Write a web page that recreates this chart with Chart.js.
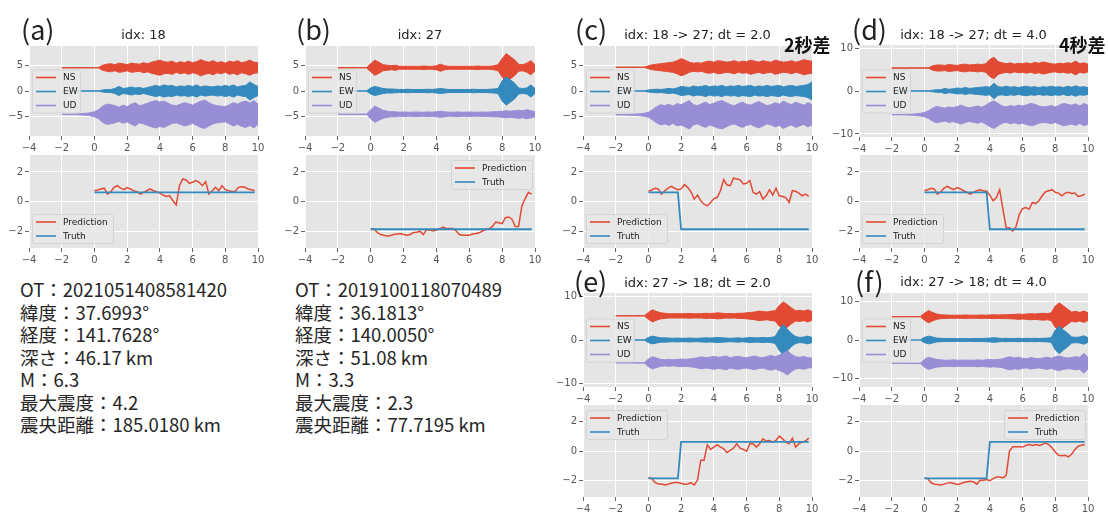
<!DOCTYPE html>
<html>
<head>
<meta charset="utf-8">
<script src="https://cdn.jsdelivr.net/npm/chart.js@4.4.0/dist/chart.umd.min.js"></script>
<style>
  body { margin: 0; width: 1108px; height: 515px; overflow: hidden; position: relative; background: #fff; }
  canvas { position: absolute; z-index: 1; }
  .tag { position: absolute; z-index: 5; font-family: "Noto Sans CJK JP", sans-serif; font-size: 27px; line-height: 30px; color: #222; }
  .ttl { position: absolute; z-index: 5; font-family: "DejaVu Sans", sans-serif; font-size: 13px; line-height: 16px; color: #222; text-align: center; white-space: nowrap; }
  .diff { position: absolute; z-index: 5; font-family: "Noto Sans CJK JP", sans-serif; font-size: 18px; font-weight: bold; line-height: 20px; color: #111; }
  .info { position: absolute; z-index: 5; font-family: "Noto Sans CJK JP", sans-serif; font-size: 18.5px; line-height: 22.5px; color: #262626; white-space: nowrap; }
</style>
</head>
<body>

<div class="tag" style="left:21px;top:14px">(a)</div>
<div class="tag" style="left:296px;top:14px">(b)</div>
<div class="tag" style="left:575px;top:14px">(c)</div>
<div class="tag" style="left:852px;top:14px">(d)</div>
<div class="tag" style="left:574px;top:266px">(e)</div>
<div class="tag" style="left:855px;top:266px">(f)</div>
<div class="diff" style="left:784px;top:34px">2秒差</div>
<div class="diff" style="left:1059px;top:34px">4秒差</div>

<div class="info" style="left:20px;top:278px">OT：2021051408581420<br>緯度：37.6993°<br>経度：141.7628°<br>深さ：46.17 km<br>M：6.3<br>最大震度：4.2<br>震央距離：185.0180 km</div>
<div class="info" style="left:295px;top:278px">OT：2019100118070489<br>緯度：36.1813°<br>経度：140.0050°<br>深さ：51.08 km<br>M：3.3<br>最大震度：2.3<br>震央距離：77.7195 km</div>

<script>
/* ---------- data ---------- */

const xTicks = [-4, -2, 0, 2, 4, 6, 8, 10];
const waveTicks5 = [-5, 0, 5];
const waveTicks10 = [-10, 0, 10];
const predTicks = [-2, 0, 2];

const waveLabels = ["NS", "EW", "UD"];
const predLabels = ["Prediction", "Truth"];
const titles = ["idx: 18", "idx: 27", "idx: 18 -> 27; dt = 2.0", "idx: 18 -> 27; dt = 4.0",
                "idx: 27 -> 18; dt = 2.0", "idx: 27 -> 18; dt = 4.0"];

// sample times of the waveform envelopes (s)
const waveT = [
  -2, -1.75, -1.5, -1.25, -1, -0.75, -0.5, -0.25, 0, 0.25,
  0.5, 0.75, 1, 1.25, 1.5, 1.75, 2, 2.25, 2.5, 2.75,
  3, 3.25, 3.5, 3.75, 4, 4.25, 4.5, 4.75, 5, 5.25,
  5.5, 5.75, 6, 6.25, 6.5, 6.75, 7, 7.25, 7.5, 7.75,
  8, 8.25, 8.5, 8.75, 9, 9.25, 9.5, 9.75, 10
];

// trace offsets NS / EW / UD
const shiftA = [4.6, 0, -4.6];
const shiftB = [4.6, 0, -4.6];
const shiftC = [4.7, 0, -4.7];
const shiftD = [5.35, 0, -5.5];
const shiftE = [5.6, 0, -5.3];
const shiftF = [6.1, 0, -6.1];

// half-amplitude of each trace, read per 0.25 s
const nsA = [0.05,0.05,0.05,0.05,0.05,0.05,0.05,0.05,0.05,0.05,
  0.5,0.7,0.8,0.6,0.9,0.8,0.6,0.9,0.8,0.7, 1.0,0.8,1.1,1.3,1.5,1.2,1.1,1.3,0.9,1.2,
  1.0,1.3,1.0,1.2,1.6,1.3,1.1,1.4,1.0,1.2, 0.9,1.3,1.1,1.4,1.0,1.2,1.5,1.1,1.0];
const ewA = [0.03,0.03,0.03,0.03,0.03,0.03,0.03,0.03,0.03,0.03,
  0.2,0.3,0.3,0.5,0.9,0.5,0.6,0.8,0.6,0.7, 0.5,0.7,0.9,1.1,0.9,1.2,1.0,1.1,0.8,1.0,
  0.9,1.1,0.9,1.2,0.8,1.0,0.9,0.8,1.0,0.9, 1.1,0.9,1.2,0.8,1.0,1.1,1.8,1.3,0.9];
const udA = [0.05,0.05,0.05,0.05,0.1,0.15,0.2,0.3,0.5,0.9,
  1.6,2.0,1.9,1.7,1.4,1.8,1.5,2.0,2.3,1.7, 1.9,2.2,2.5,2.7,2.4,2.6,2.2,1.8,1.7,2.0,
  2.3,2.1,1.8,2.2,2.6,2.8,2.3,1.9,1.7,1.6, 1.5,1.9,2.3,2.0,2.4,2.6,2.2,2.7,2.0];

const nsB = [0.03,0.03,0.03,0.03,0.03,0.03,0.03,0.03,0.8,1.5,
  1.1,0.6,0.5,0.4,0.5,0.3,0.3,0.3,0.3,0.3, 0.3,0.35,0.3,0.3,0.4,0.7,0.4,0.3,0.3,0.3,
  0.3,0.3,0.3,0.3,0.35,0.3,0.3,0.3,0.4,0.6, 1.8,2.8,2.2,1.6,0.7,0.6,0.9,1.4,0.6];
const ewB = [0.03,0.03,0.03,0.03,0.03,0.03,0.03,0.03,0.6,0.9,
  0.7,0.5,0.4,0.4,0.35,0.3,0.3,0.35,0.3,0.3, 0.3,0.3,0.35,0.3,0.4,0.5,0.4,0.3,0.3,0.3,
  0.3,0.3,0.3,0.35,0.3,0.3,0.3,0.35,0.4,0.5, 2.0,2.8,2.2,1.6,0.6,0.5,0.6,1.2,0.5];
const udB = [0.03,0.03,0.03,0.03,0.03,0.03,0.03,0.03,0.9,1.6,
  1.2,0.8,0.6,0.5,0.5,0.4,0.45,0.4,0.4,0.45, 0.4,0.4,0.45,0.4,0.5,0.6,0.5,0.4,0.4,0.45,
  0.4,0.4,0.45,0.4,0.4,0.45,0.4,0.45,0.5,0.5, 0.6,0.7,0.6,0.7,0.8,0.7,0.9,0.7,0.5];

const nsC = [0.03,0.03,0.03,0.03,0.03,0.03,0.03,0.03,0.3,0.5,
  0.6,0.7,0.8,0.9,1.0,1.3,1.7,1.4,1.0,0.8, 0.9,0.8,1.1,1.2,1.0,1.3,1.2,1.0,1.1,1.3,
  1.0,1.2,1.1,1.4,1.2,1.0,1.3,1.1,1.0,1.4, 1.2,1.0,1.1,1.3,1.0,1.2,1.5,1.3,1.2];
const ewC = [0.03,0.03,0.03,0.03,0.03,0.03,0.03,0.03,0.2,0.3,
  0.35,0.3,0.4,0.5,0.4,0.6,0.9,0.8,0.7,1.0, 0.8,0.9,1.1,0.8,1.0,0.9,1.1,0.8,1.0,0.9,
  1.1,0.9,1.0,1.1,0.8,1.0,0.9,1.1,0.9,1.0, 1.1,0.8,1.0,1.1,0.9,1.0,1.1,1.3,1.8];
const udC = [0.03,0.03,0.05,0.08,0.1,0.15,0.2,0.3,0.5,1.0,
  1.6,2.0,1.8,2.1,1.7,2.2,2.0,2.4,2.8,2.0, 1.8,2.2,2.5,2.0,2.3,2.6,2.8,2.4,2.0,1.8,
  2.2,2.5,2.1,1.9,2.3,2.6,2.2,1.8,2.0,2.4, 2.1,2.7,2.3,2.0,2.5,2.2,1.9,2.4,2.0];

const nsD = [0.03,0.03,0.03,0.03,0.03,0.03,0.03,0.03,0.03,0.03,
  0.5,0.7,0.7,0.6,0.8,0.7,0.6,0.8,0.9,0.7, 0.8,0.9,0.8,1.0,2.0,2.5,1.5,1.2,1.0,1.2,
  0.9,1.1,1.0,1.2,1.0,1.3,1.1,1.4,1.2,1.0, 0.9,1.1,1.0,1.2,1.1,1.6,1.0,1.2,0.9];
const ewD = [0.03,0.03,0.03,0.03,0.03,0.03,0.03,0.03,0.03,0.03,
  0.2,0.3,0.3,0.6,0.4,0.5,0.7,0.6,0.8,0.6, 0.7,0.8,0.9,1.0,0.9,1.8,1.0,0.9,1.1,0.9,
  1.0,0.8,1.0,1.1,0.9,1.0,0.8,1.0,0.9,1.1, 0.9,1.0,0.8,1.1,0.9,1.2,0.9,1.0,0.8];
const udD = [0.03,0.03,0.03,0.05,0.08,0.12,0.2,0.3,0.5,0.9,
  1.5,1.9,1.7,1.5,1.8,1.6,1.9,2.2,1.8,1.6, 1.8,2.0,1.7,2.2,2.8,3.2,2.6,2.0,1.8,2.1,
  1.9,2.2,2.0,2.3,2.6,2.4,2.0,1.8,1.9,2.1, 1.8,2.2,2.6,2.4,2.2,2.5,2.0,2.6,2.2];

const nsE = [0.03,0.03,0.03,0.03,0.03,0.03,0.03,0.03,0.8,1.4,
  1.0,0.7,0.6,0.5,0.5,0.5,0.5,0.5,0.55,0.5, 0.5,0.5,0.6,0.55,0.6,0.7,0.6,0.5,0.55,0.5,
  0.6,0.6,0.7,0.8,0.9,1.1,1.0,0.9,1.1,1.2, 2.4,3.2,2.6,1.8,1.2,1.3,1.1,1.4,1.0];
const ewE = [0.03,0.03,0.03,0.03,0.03,0.03,0.03,0.03,0.6,0.9,
  0.7,0.5,0.5,0.45,0.4,0.45,0.4,0.4,0.45,0.4, 0.4,0.45,0.5,0.45,0.5,0.6,0.5,0.45,0.4,0.45,
  0.5,0.4,0.5,0.6,0.5,0.5,0.6,0.5,0.6,0.8, 2.4,3.6,2.5,1.5,0.8,0.6,0.7,0.9,0.6];
const udE = [0.03,0.03,0.03,0.03,0.03,0.03,0.03,0.03,0.9,1.4,
  1.1,0.8,0.7,0.8,0.7,0.8,0.9,0.8,0.9,1.0, 1.2,1.4,1.2,1.3,1.5,1.3,1.4,1.6,1.2,1.4,
  1.5,1.3,1.2,1.4,1.6,1.3,1.2,1.5,1.7,1.4, 1.8,2.2,2.8,2.0,1.4,1.3,1.5,1.2,1.1];

const nsF = [0.03,0.03,0.03,0.03,0.03,0.03,0.03,0.03,0.9,1.6,
  1.1,0.7,0.5,0.45,0.4,0.4,0.4,0.4,0.45,0.4, 0.4,0.4,0.45,0.4,0.45,0.5,0.45,0.5,0.5,0.55,
  0.6,0.7,0.6,0.7,0.8,0.7,0.8,0.9,0.8,1.0, 2.8,3.6,2.8,2.0,1.2,1.4,1.1,1.5,1.0];
const ewF = [0.03,0.03,0.03,0.03,0.03,0.03,0.03,0.03,0.7,1.0,
  0.8,0.5,0.45,0.4,0.4,0.4,0.35,0.4,0.4,0.35, 0.4,0.4,0.4,0.45,0.5,0.6,0.5,0.4,0.45,0.4,
  0.4,0.45,0.4,0.45,0.4,0.45,0.4,0.45,0.5,0.6, 2.6,3.6,2.6,1.8,0.8,0.7,0.8,1.1,0.6];
const udF = [0.03,0.03,0.03,0.03,0.03,0.03,0.03,0.03,1.0,1.6,
  1.3,1.0,0.9,0.8,0.8,0.9,0.8,0.8,0.85,0.8, 0.8,0.9,0.8,0.9,1.0,0.9,1.0,1.1,1.5,1.7,
  1.4,1.6,1.3,1.2,1.5,1.3,1.2,1.4,1.6,1.3, 1.7,1.9,1.6,1.4,1.5,1.7,1.6,2.6,1.5];

// prediction sample times (s)
const predT = [
  0, 0.2, 0.4, 0.6, 0.8, 1, 1.2, 1.4, 1.6, 1.8,
  2, 2.2, 2.4, 2.6, 2.8, 3, 3.2, 3.4, 3.6, 3.8,
  4, 4.2, 4.4, 4.6, 4.8, 5, 5.2, 5.4, 5.6, 5.8,
  6, 6.2, 6.4, 6.6, 6.8, 7, 7.2, 7.4, 7.6, 7.8,
  8, 8.2, 8.4, 8.6, 8.8, 9, 9.2, 9.4, 9.6, 9.8
];

const predA = [0.73,0.78,0.85,0.9,0.5,0.66,0.96,1.07,0.9,0.8,
  0.94,0.85,0.73,0.66,0.5,0.62,0.73,0.85,0.73,0.66,
  0.57,0.43,0.34,0.39,0.05,-0.23,1.07,1.53,1.46,1.23,
  1.3,1.42,1.3,1.07,1.35,0.5,0.73,0.96,0.73,1.07,
  0.8,0.73,0.68,0.68,0.96,1.0,0.96,0.85,0.8,0.73];
const predB = [-1.85,-1.85,-2.1,-2.24,-2.28,-2.35,-2.3,-2.24,-2.2,-2.17,
  -2.24,-2.28,-2.24,-2.1,-2.08,-2.01,-2.24,-1.9,-1.94,-2.0,
  -1.94,-1.85,-1.74,-1.83,-1.83,-1.83,-2.0,-2.24,-2.28,-2.28,
  -2.28,-2.2,-2.17,-2.12,-2.0,-1.9,-1.85,-1.7,-1.4,-1.44,
  -1.5,-1.1,-1.05,-1.2,-1.7,-1.7,-0.3,0.2,0.62,0.5];
const predC = [0.69,0.78,0.9,0.85,0.5,0.73,0.9,1.03,0.9,0.8,
  0.85,1.14,0.96,0.66,0.16,0.43,0.05,-0.18,-0.3,-0.07,
  0.2,0.27,0.73,1.48,1.12,1.07,1.58,1.53,1.48,1.19,
  1.23,1.42,0.62,0.5,0.66,0.16,0.39,0.8,0.43,0.9,
  0.39,0.34,0.27,-0.07,0.73,0.69,0.57,0.39,0.5,0.34];
const predD = [0.73,0.8,0.9,0.85,0.5,0.66,0.9,1.03,0.9,0.8,
  0.94,0.85,0.73,0.62,0.5,0.62,0.73,0.8,0.73,0.69,
  0.43,0.05,0.27,0.8,-0.53,-1.78,-1.78,-2.0,-1.7,-0.87,
  -0.48,-0.41,-0.53,-0.07,-0.14,0.05,0.39,0.66,0.73,0.8,
  0.62,0.57,0.39,0.57,0.62,0.55,0.57,0.34,0.39,0.5];
const predE = [-1.83,-1.88,-2.15,-2.26,-2.26,-2.33,-2.28,-2.21,-2.15,-2.15,
  -2.21,-2.28,-2.26,-2.17,-2.33,-1.99,-0.63,-0.63,0.43,0.11,
  0.27,0.43,0.27,0.16,-0.11,0.05,0.2,0.5,0.2,0.11,
  -0.02,0.5,0.5,0.27,0.5,0.84,0.68,0.72,0.61,0.72,
  1.02,0.84,0.61,0.5,0.88,0.27,0.5,0.61,0.68,0.88];
const predF = [-1.84,-1.89,-2.16,-2.27,-2.29,-2.33,-2.27,-2.2,-2.16,-2.22,
  -2.29,-2.24,-2.16,-2.11,-2.07,-2.11,-2.27,-2.0,-2.0,-1.96,
  -2.04,-1.89,-1.78,-1.78,-1.84,-1.67,0.0,0.29,0.29,0.29,
  0.27,0.38,0.44,0.38,0.44,0.38,0.44,0.56,0.44,0.22,
  -0.07,-0.29,-0.33,-0.29,-0.4,-0.22,0.11,0.33,0.4,0.44];

const truthAx = [0, 9.8],            truthAy = [0.62, 0.62];
const truthBx = [0, 9.8],            truthBy = [-1.88, -1.88];
const truthCx = [0, 1.8, 2.0, 9.8],  truthCy = [0.62, 0.62, -1.88, -1.88];
const truthDx = [0, 3.8, 4.0, 9.8],  truthDy = [0.62, 0.62, -1.88, -1.88];
const truthEx = [0, 1.8, 2.0, 9.8],  truthEy = [-1.88, -1.88, 0.62, 0.62];
const truthFx = [0, 3.8, 4.0, 9.8],  truthFy = [-1.88, -1.88, 0.62, 0.62];

/* ---------- style ---------- */

const RED = "#E24A33", BLUE = "#348ABD", PURPLE = "#988ED5";
const waveColors = [RED, BLUE, PURPLE];
const predColors = [RED, BLUE];
const PAD_L = 30, PAD_T = 8, PAD_R = 10, PAD_B = 18;

const ggBg = {
    id: "ggBg",
    beforeDraw(chart) {
        const a = chart.chartArea, ctx = chart.ctx;
        ctx.save();
        ctx.fillStyle = "#E5E5E5";
        ctx.fillRect(a.left, a.top, a.right - a.left, a.bottom - a.top);
        ctx.restore();
    }
};

// matplotlib-like legend box drawn inside the axes
const boxLegend = {
    id: "boxLegend",
    afterDraw(chart, args, o) {
        if (!o.labels) return;
        const a = chart.chartArea, ctx = chart.ctx;
        const rowH = 14, h = o.labels.length * rowH + 1, w = o.width;
        const x = o.loc.includes("right") ? a.right - 3 - w : a.left + 3;
        const y = o.loc.startsWith("upper") ? a.top + 5
                : o.loc.startsWith("lower") ? a.bottom - 5 - h
                : (a.top + a.bottom) / 2 - h / 2;
        ctx.save();
        ctx.beginPath();
        ctx.roundRect(x + 0.5, y + 0.5, w, h, 2);
        ctx.fillStyle = "rgba(232,232,232,0.85)";
        ctx.fill();
        ctx.strokeStyle = "rgba(210,210,210,0.9)";
        ctx.lineWidth = 1;
        ctx.stroke();
        ctx.font = "9px 'DejaVu Sans'";
        ctx.textBaseline = "middle";
        o.labels.forEach((lab, i) => {
            const cy = y + 1 + rowH * (i + 0.5);
            ctx.strokeStyle = o.colors[i];
            ctx.lineWidth = 1.6;
            ctx.beginPath();
            ctx.moveTo(x + 4, cy);
            ctx.lineTo(x + 24, cy);
            ctx.stroke();
            ctx.fillStyle = "#222";
            ctx.fillText(lab, x + 31, cy + 0.5);
        });
        ctx.restore();
    }
};

const minus = v => (v < 0 ? "\u2212" + Math.abs(v) : String(v));

function axis(min, max, ticks, isX) {
    return {
        type: "linear", min, max,
        afterBuildTicks: s => { s.ticks = ticks.map(v => ({ value: v })); },
        afterFit: s => { if (isX) s.height = PAD_B; else s.width = PAD_L; },
        grid: { color: "#FFFFFF", lineWidth: 1, tickColor: "#666", tickLength: 4, tickWidth: 1 },
        border: { display: false },
        ticks: {
            color: "#555", padding: 2, autoSkip: false, maxRotation: 0,
            font: { family: "DejaVu Sans", size: 10 },
            callback: v => minus(v)
        }
    };
}

function place(box) {
    const cv = document.createElement("canvas");
    cv.width = box[2] - box[0] + PAD_L + PAD_R;
    cv.height = box[3] - box[1] + PAD_T + PAD_B;
    cv.style.left = (box[0] - PAD_L) + "px";
    cv.style.top = (box[1] - PAD_T) + "px";
    document.body.appendChild(cv);
    return cv;
}

function plot(box, yr, yTicks, datasets, legend) {
    new Chart(place(box), {
        type: "line",
        data: { datasets },
        options: {
            responsive: false, animation: false, events: [],
            layout: { padding: { left: 0, top: PAD_T, right: PAD_R, bottom: 0 } },
            elements: { point: { radius: 0 }, line: { tension: 0 } },
            scales: { x: axis(-4, 10, xTicks, true), y: axis(yr[0], yr[1], yTicks, false) },
            plugins: {
                legend: { display: false }, tooltip: { enabled: false },
                filler: { propagate: false, drawTime: "beforeDatasetDraw" },
                boxLegend: legend
            }
        },
        plugins: [ggBg, boxLegend]
    });
}

function wavePlot(box, yr, yTicks, envs, shifts) {
    const sets = [];
    envs.forEach((env, k) => {
        const c = waveColors[k], order = 2 - k;
        sets.push({ data: waveT.map((t, i) => ({ x: t, y: shifts[k] + env[i] })),
                    borderColor: c, borderWidth: 1, fill: false, order });
        sets.push({ data: waveT.map((t, i) => ({ x: t, y: shifts[k] - env[i] })),
                    borderColor: c, borderWidth: 1, fill: "-1", backgroundColor: c, order });
    });
    plot(box, yr, yTicks, sets, { labels: waveLabels, colors: waveColors, width: 48, loc: "center left" });
}

function predPlot(box, pred, tx, ty, loc) {
    const sets = [
        { data: predT.map((t, i) => ({ x: t, y: pred[i] })), borderColor: RED, borderWidth: 1.5, order: 1 },
        { data: tx.map((t, i) => ({ x: t, y: ty[i] })), borderColor: BLUE, borderWidth: 1.8, order: 0 }
    ];
    plot(box, [-3.15, 3.15], predTicks, sets, { labels: predLabels, colors: predColors, width: 81, loc });
}

function title(box, text, cy) {
    const d = document.createElement("div");
    d.className = "ttl";
    d.textContent = text;
    d.style.left = box[0] + "px";
    d.style.width = (box[2] - box[0]) + "px";
    d.style.top = (cy - 8) + "px";
    document.body.appendChild(d);
}

/* ---------- panels ---------- */

const boxes = {
    aT: [29, 46, 258, 136],  aB: [29, 155, 258, 248],
    bT: [305, 46, 535, 136], bB: [305, 155, 535, 248],
    cT: [583, 46, 812, 136], cB: [583, 155, 812, 248],
    dT: [859, 45, 1088, 137], dB: [859, 155, 1088, 248],
    eT: [583, 293, 812, 387], eB: [583, 405, 812, 497],
    fT: [859, 293, 1088, 387], fB: [859, 405, 1088, 497]
};

wavePlot(boxes.aT, [-8.9, 8.9], waveTicks5, [nsA, ewA, udA], shiftA);
wavePlot(boxes.bT, [-8.9, 8.9], waveTicks5, [nsB, ewB, udB], shiftB);
wavePlot(boxes.cT, [-8.9, 8.9], waveTicks5, [nsC, ewC, udC], shiftC);
wavePlot(boxes.dT, [-10.7, 10.7], waveTicks10, [nsD, ewD, udD], shiftD);
wavePlot(boxes.eT, [-10.9, 10.9], waveTicks10, [nsE, ewE, udE], shiftE);
wavePlot(boxes.fT, [-12.3, 12.3], waveTicks10, [nsF, ewF, udF], shiftF);

predPlot(boxes.aB, predA, truthAx, truthAy, "lower left");
predPlot(boxes.bB, predB, truthBx, truthBy, "upper right");
predPlot(boxes.cB, predC, truthCx, truthCy, "lower left");
predPlot(boxes.dB, predD, truthDx, truthDy, "lower left");
predPlot(boxes.eB, predE, truthEx, truthEy, "upper left");
predPlot(boxes.fB, predF, truthFx, truthFy, "upper right");

title(boxes.aT, titles[0], 35);
title(boxes.bT, titles[1], 35);
title(boxes.cT, titles[2], 35);
title(boxes.dT, titles[3], 35);
title(boxes.eT, titles[4], 283);
title(boxes.fT, titles[5], 282);
</script>
</body>
</html>
